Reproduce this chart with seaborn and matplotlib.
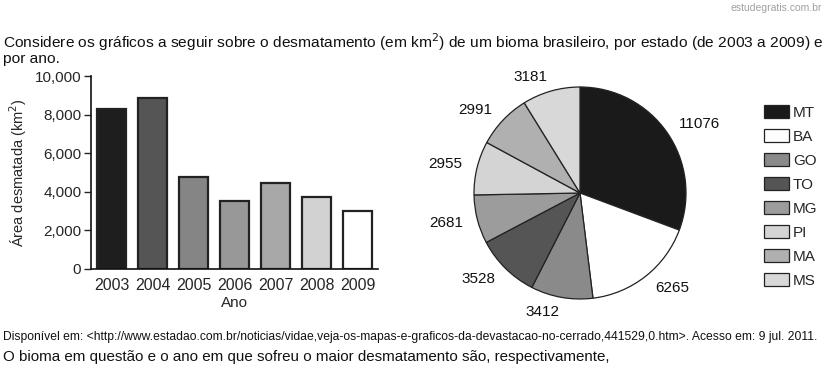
import numpy as np
import pandas as pd
import matplotlib
matplotlib.use("Agg")
import matplotlib.pyplot as plt
import matplotlib.ticker as mticker
import seaborn as sns

sns.set_style("white")
plt.rcParams['font.family'] = ['Liberation Sans', 'DejaVu Sans']

# dados do grafico de barras (desmatamento por ano)
anos = ['2003', '2004', '2005', '2006', '2007', '2008', '2009']
area = [8280, 8880, 4780, 3540, 4470, 3750, 3020]
cores_barras = ['#1e1e1e', '#555555', '#858585', '#989898', '#a8a8a8', '#d2d2d2', '#ffffff']

# dados do grafico de pizza (desmatamento por estado)
estados = ['MT', 'BA', 'GO', 'TO', 'MG', 'PI', 'MA', 'MS']
valores = [11076, 6265, 3412, 3528, 2681, 2955, 2991, 3181]
cores_pizza = ['#1a1a1a', '#ffffff', '#8a8a8a', '#555555', '#9c9c9c', '#d4d4d4', '#b0b0b0', '#d8d8d8']

fig = plt.figure(figsize=(8.28, 3.76), dpi=100)

# textos
fig.text(0.993, 0.978, 'estudegratis.com.br', ha='right', va='center', fontsize=7.5, color='#a0a0a0')
fig.text(0.004, 0.888, 'Considere os gráficos a seguir sobre o desmatamento (em km$^2$) de um bioma brasileiro, '
         'por estado (de 2003 a 2009) e', ha='left', va='center', fontsize=11.15, color='#111111')
fig.text(0.004, 0.843, 'por ano.', ha='left', va='center', fontsize=11.15, color='#111111')
fig.text(0.004, 0.104, 'Disponível em: <http://www.estadao.com.br/noticias/vidae,veja-os-mapas-e-graficos-da-devastacao-no-cerrado,441529,0.htm>. Acesso em: 9 jul. 2011.',
         ha='left', va='center', fontsize=8.75, color='#111111')
fig.text(0.004, 0.05, 'O bioma em questão e o ano em que sofreu o maior desmatamento são, respectivamente,',
         ha='left', va='center', fontsize=10.9, color='#111111')

# grafico de barras
ax = fig.add_axes([0.110, 0.2846, 0.347, 0.513])
df = pd.DataFrame({'Ano': anos, 'Area': area})
sns.barplot(data=df, x='Ano', y='Area', hue='Ano', palette=cores_barras, legend=False,
            edgecolor='#222222', linewidth=1.6, width=0.71, ax=ax)
ax.set_ylim(0, 10000)
ax.set_xlim(-0.5, 6.5)
ax.set_yticks([0, 2000, 4000, 6000, 8000, 10000])
ax.yaxis.set_major_formatter(mticker.StrMethodFormatter('{x:,.0f}'))
ax.set_xlabel('Ano', fontsize=11, labelpad=2)
ax.set_ylabel('Área desmatada (km$^2$)', fontsize=10.5, labelpad=4)
ax.tick_params(axis='y', left=True, length=5, width=1, labelsize=11, pad=2)
ax.tick_params(axis='x', bottom=False, labelsize=11.5, pad=3)
sns.despine(ax=ax)
for s in ['left', 'bottom']:
    ax.spines[s].set_color('#111111')
    ax.spines[s].set_linewidth(1.2)

# grafico de pizza
axp = fig.add_axes([(580 - 106) / 828, 1 - (193 + 106) / 376, 212 / 828, 212 / 376])
wedges, textos = axp.pie(valores, labels=[str(v) for v in valores], colors=cores_pizza,
                         startangle=90, counterclock=False, labeldistance=1.14,
                         wedgeprops=dict(edgecolor='#222222', linewidth=0.9),
                         textprops=dict(fontsize=11, color='#111111'))
axp.set_xlim(-1, 1)
axp.set_ylim(-1, 1)
axp.set_aspect('equal')

fig.legend(wedges, estados, loc='upper left', bbox_to_anchor=(0.915, 0.737), frameon=False,
           fontsize=11, handlelength=1.65, handleheight=0.95, labelspacing=0.6,
           handletextpad=0.25, borderaxespad=0)

fig.savefig('out.png', dpi=100)
